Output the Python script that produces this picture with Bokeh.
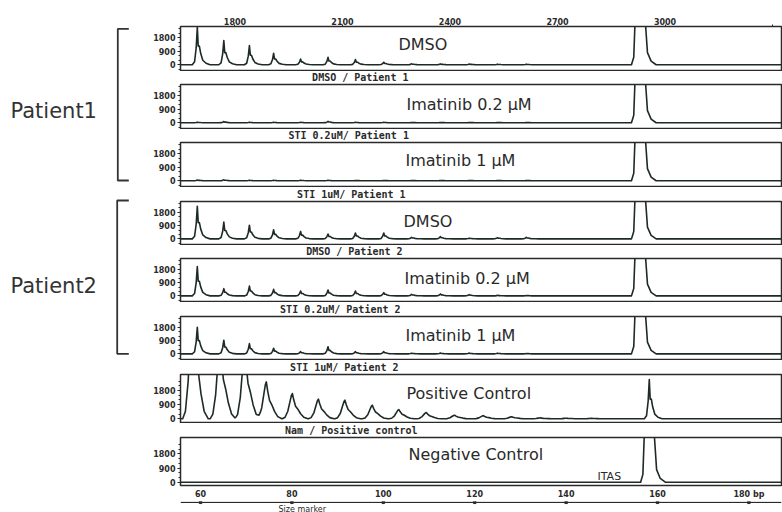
import numpy as np
from bokeh.plotting import figure
from bokeh.models import Range1d, LinearAxis, FixedTicker, Span
from bokeh.layouts import row, column
from bokeh.embed import file_html
from bokeh.resources import INLINE
from bokeh.core.properties import value

# ---------------- data ----------------
ladder_bp = [59.3, 65.1, 70.7, 76.0, 81.9, 87.9, 93.9, 100.1, 106.2, 112.5, 118.8, 125.0, 131.3]
p1_dmso = [2470, 1600, 1265, 760, 380, 490, 340, 165, 60, 55, 45, 40, 40]
p1_im02 = [40, 80, 30, 30, 30, 90, 30, 30, 20, 20, 20, 20, 20]
p1_im1 = [50, 60, 30, 30, 40, 30, 20, 20, 20, 20, 20, 20, 20]
p2_dmso = [2200, 1140, 925, 615, 505, 330, 400, 400, 110, 150, 50, 80, 110]
p2_im02 = [1980, 490, 660, 440, 330, 400, 330, 220, 110, 130, 90, 40, 30]
p2_im1 = [1800, 925, 700, 375, 150, 480, 150, 150, 50, 60, 60, 50, 30]
pos_bp = [58.3, 64.3, 69.7, 74.4, 80.1, 85.8, 91.6, 97.6, 103.4, 109.4, 115.6, 121.9, 128.1, 134.4, 140.1, 145.6]
pos_heights = [8000, 5000, 4500, 2350, 1610, 1250, 1185, 865, 590, 400, 230, 200, 130, 60, 40, 30]
itas_patient_bp = 156.2
itas_control_bp = 158.2
itas_saturated = 20000
itas_positive = 2500

y_ticks = [0, 900, 1800]
y_tick_labels = {0: "0", 900: "900", 1800: "1800"}
bp_ticks = [60, 80, 100, 120, 140, 160, 180]
bp_tick_labels = {60: "60", 80: "80", 100: "100", 120: "120", 140: "140", 160: "160", 180: "180 bp"}
scan_ticks = [1800, 2100, 2400, 2700, 3000, 3300]
scan_tick_labels = {1800: "1800", 2100: "2100", 2400: "2400", 2700: "2700", 3000: "3000", 3300: ""}

# ---------------- peak shapes (style) ----------------
narrow_dx = [-1.1, -0.6, -0.25, 0.0, 0.2, 0.45, 0.75, 1.2, 1.9, 2.8]
narrow_fy = [0.0, 0.08, 0.45, 1.0, 0.5, 0.5, 0.3, 0.12, 0.04, 0.0]
broad_dx = [-2.2, -1.6, -1.0, -0.5, -0.2, 0.0, 0.3, 0.7, 1.2, 1.8, 2.5, 3.4]
broad_fy = [0.0, 0.06, 0.3, 0.7, 0.93, 1.0, 0.75, 0.5, 0.38, 0.2, 0.06, 0.0]
itas_dx = [-1.9, -1.4, -1.1, 0.0, 1.1, 1.6, 2.4, 3.5]
itas_fy = [0.0, 0.025, 0.15, 1.0, 0.15, 0.04, 0.012, 0.0]

BP_RANGE = (55.62, 187.13)
SCAN_RANGE = (1648, 3325)
TRACE = "#1e2b24"
INK = "#2a2a2a"
FRAME_W = 601
LEFT_B = 40


def build_trace(peaks, x0, x1):
    pts = {x0, x1}
    for pos, h, dx, fy in peaks:
        pts.update(pos + d for d in dx)
    xs = np.array(sorted(pts))
    ys = np.zeros(len(xs))
    for pos, h, dx, fy in peaks:
        ys += h * np.interp(xs, [pos + d for d in dx], fy, left=0.0, right=0.0)
    return xs, ys


def ladder(heights):
    return [(p, h, narrow_dx, narrow_fy) for p, h in zip(ladder_bp, heights)]


itas_pat = [(itas_patient_bp, itas_saturated, itas_dx, itas_fy)]

panels = [
    dict(peaks=ladder(p1_dmso) + itas_pat, text="DMSO", tx=103.32, ty=1340,
         sub="DMSO / Patient 1", sx=105.5, fh=44, yr=(-380, 2530), bt=26, gap=12),
    dict(peaks=ladder(p1_im02) + itas_pat, text="Imatinib 0.2 \u03bcM", tx=105.07, ty=1207,
         sub="STI 0.2uM/ Patient 1", sx=105.6, fh=44, yr=(-380, 2530), bt=1, gap=12),
    dict(peaks=ladder(p1_im1) + itas_pat, text="Imatinib 1 \u03bcM", tx=104.85, ty=1340,
         sub="STI 1uM/ Patient 1", sx=104.85, fh=44, yr=(-380, 2530), bt=1, gap=13),
    dict(peaks=ladder(p2_dmso) + itas_pat, text="DMSO", tx=104.42, ty=1210,
         sub="DMSO / Patient 2", sx=104.2, fh=43, yr=(-380, 2530), bt=1, gap=12),
    dict(peaks=ladder(p2_im02) + itas_pat, text="Imatinib 0.2 \u03bcM", tx=104.64, ty=1176,
         sub="STI 0.2uM/ Patient 2", sx=103.76, fh=43, yr=(-380, 2530), bt=1, gap=13),
    dict(peaks=ladder(p2_im1) + itas_pat, text="Imatinib 1 \u03bcM", tx=104.85, ty=1244,
         sub="STI 1uM/ Patient 2", sx=103.32, fh=43, yr=(-380, 2530), bt=1, gap=13),
    dict(peaks=[(p, h, broad_dx, broad_fy) for p, h in zip(pos_bp, pos_heights)]
         + [(itas_control_bp, itas_positive, narrow_dx, narrow_fy)],
         text="Positive Control", tx=105.07, ty=1611,
         sub="Nam / Positive control", sx=107.48, fh=48, yr=(-235, 2820), bt=1, gap=13),
    dict(peaks=[(itas_control_bp, itas_saturated, itas_dx, itas_fy)],
         text="Negative Control", tx=105.51, ty=1766,
         sub=None, sx=None, fh=48, yr=(-210, 2850), bt=1, gap=12),
]


def strip(h):
    s = figure(frame_width=FRAME_W, frame_height=h,
               x_range=Range1d(*BP_RANGE), y_range=Range1d(h, 0),
               x_axis_location=None, y_axis_location=None,
               min_border_left=LEFT_B, min_border_right=1,
               min_border_top=0, min_border_bottom=0,
               output_backend="svg", toolbar_location=None, title=None)
    s.outline_line_color = None
    s.grid.grid_line_color = None
    s.background_fill_color = "white"
    s.border_fill_color = "white"
    return s


items = []
n = len(panels)
for i, spec in enumerate(panels):
    last = i == n - 1
    p = figure(frame_width=FRAME_W, frame_height=spec["fh"],
               x_range=Range1d(*BP_RANGE), y_range=Range1d(*spec["yr"]),
               x_axis_location="below" if last else None, y_axis_location="left",
               min_border_left=LEFT_B, min_border_right=1,
               min_border_top=spec["bt"], min_border_bottom=14 if last else 1,
               output_backend="svg", toolbar_location=None, title=None)
    p.background_fill_color = "white"
    p.border_fill_color = "white"
    p.outline_line_color = INK
    p.outline_line_width = 1.5
    p.grid.grid_line_color = None

    yax = p.yaxis[0]
    yax.ticker = FixedTicker(ticks=y_ticks, minor_ticks=[-300, 300, 600, 1200, 1500, 2100, 2400])
    yax.major_label_overrides = y_tick_labels
    yax.major_label_text_font = "DejaVu Sans"
    yax.major_label_text_font_style = "bold"
    yax.major_label_text_font_size = "8px"
    yax.major_label_text_color = INK
    yax.major_label_standoff = 2
    yax.major_tick_out = 3
    yax.major_tick_in = 0
    yax.minor_tick_out = 2
    yax.minor_tick_in = 0
    yax.axis_line_color = INK
    yax.major_tick_line_color = INK
    yax.minor_tick_line_color = INK

    xs, ys = build_trace(spec["peaks"], *BP_RANGE)
    p.line(xs, ys, line_color=TRACE, line_width=1.6, line_join="round")

    p.text(x=[spec["tx"]], y=[spec["ty"]], text=[spec["text"]],
           text_font=value("DejaVu Sans"), text_font_size="16px",
           text_baseline="middle", text_align="left", text_color=INK)

    if i == 0:
        p.extra_x_ranges = {"scan": Range1d(*SCAN_RANGE)}
        top = LinearAxis(x_range_name="scan")
        top.ticker = FixedTicker(ticks=scan_ticks)
        top.major_label_overrides = scan_tick_labels
        top.major_label_text_font = "DejaVu Sans"
        top.major_label_text_font_style = "bold"
        top.major_label_text_font_size = "8px"
        top.major_label_text_color = INK
        top.major_label_standoff = 0
        top.major_tick_out = 2
        top.major_tick_in = 0
        top.minor_tick_line_color = None
        top.axis_line_color = INK
        top.major_tick_line_color = INK
        p.add_layout(top, "above")

    if last:
        ax1 = p.xaxis[0]
        ax1.ticker = FixedTicker(ticks=bp_ticks)
        ax1.major_label_overrides = bp_tick_labels
        ax1.major_label_text_font = "DejaVu Sans"
        ax1.major_label_text_font_style = "bold"
        ax1.major_label_text_font_size = "8px"
        ax1.major_label_text_color = INK
        ax1.major_label_standoff = 4
        ax1.major_tick_out = 0
        ax1.major_tick_in = 0
        ax1.major_tick_line_color = None
        ax1.minor_tick_line_color = None
        ax1.axis_line_color = None
        p.text(x=[146.87], y=[364], text=["ITAS"], text_font=value("DejaVu Sans"),
               text_font_size="11px", text_baseline="middle", text_color=INK)
    items.append(p)

    # strip under the panel: sample caption, or the size-marker rule
    s = strip(spec["gap"])
    if spec["sub"]:
        s.text(x=[spec["sx"]], y=[spec["gap"] / 2], text=[spec["sub"]],
               text_font=value("DejaVu Sans Mono"), text_font_style="bold",
               text_font_size="10px", text_align="right", text_baseline="middle",
               text_color=INK)
    else:
        s.add_layout(Span(location=0.8, dimension="width", line_color=INK, line_width=1.2))
        s.scatter(x=bp_ticks, y=[0.8] * len(bp_ticks), marker="square", size=2.5,
                  color=INK)
        s.text(x=[77.06], y=[7.5], text=["Size marker"], text_font=value("DejaVu Sans"),
               text_font_size="8px", text_align="left", text_baseline="middle",
               text_color=INK)
    items.append(s)

total_h = sum(sp["bt"] + sp["fh"] + sp["gap"] for sp in panels) + 1 + 14

# ---------------- left side: patient groups ----------------
left = figure(width=140, height=total_h, x_range=Range1d(0, 140), y_range=Range1d(total_h, 0),
              x_axis_location=None, y_axis_location=None, min_border=0,
              output_backend="svg", toolbar_location=None, title=None)
left.outline_line_color = None
left.grid.grid_line_color = None
left.background_fill_color = "white"
left.border_fill_color = "white"

groups = ["Patient1", "Patient2"]
group_text_y = [110, 285]
bracket_x = [117.3, 116.7]
bracket_top = [28.3, 200]
bracket_bot = [180, 353.3]
bracket_end = 128.3
for g, gy, bx, bt, bb in zip(groups, group_text_y, bracket_x, bracket_top, bracket_bot):
    left.line([bracket_end, bx, bx, bracket_end], [bt, bt, bb, bb],
              line_color="#333333", line_width=1.8)
    left.text(x=[10], y=[gy], text=[g], text_font=value("DejaVu Sans"),
              text_font_size="21px", text_baseline="middle", text_color="#333333")

layout = row(left, column(*items))
open("out.html", "w").write(file_html(layout, INLINE))
